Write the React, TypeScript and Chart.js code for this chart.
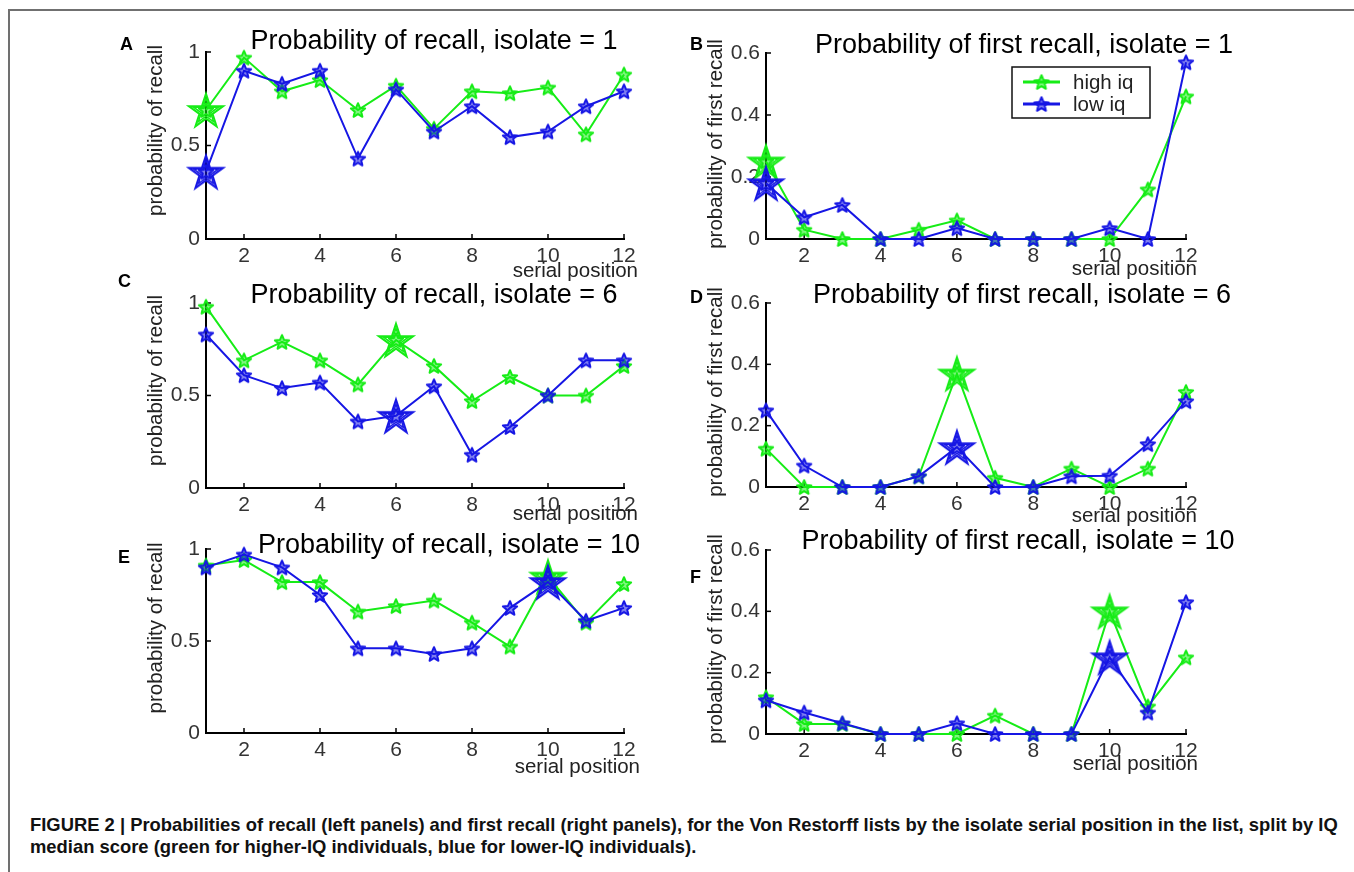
import React, { useEffect, useRef } from 'react';
import { Chart, registerables } from 'chart.js';

Chart.register(...registerables);

// ---------------- data ----------------
const serialPositions = [1, 2, 3, 4, 5, 6, 7, 8, 9, 10, 11, 12];
const xTickValues = [2, 4, 6, 8, 10, 12];
const yTicksRecall = [0, 0.5, 1];
const yTicksFirst = [0, 0.2, 0.4, 0.6];
const seriesLabels = ['high iq', 'low iq'];

const recallIso1High = [0.69, 0.97, 0.79, 0.85, 0.69, 0.82, 0.59, 0.79, 0.78, 0.81, 0.56, 0.88];
const recallIso1Low = [0.36, 0.9, 0.83, 0.9, 0.43, 0.8, 0.575, 0.71, 0.545, 0.575, 0.71, 0.79];
const firstIso1High = [0.25, 0.03, 0, 0, 0.03, 0.06, 0, 0, 0, 0, 0.16, 0.46];
const firstIso1Low = [0.18, 0.07, 0.11, 0, 0, 0.035, 0, 0, 0, 0.035, 0, 0.57];
const recallIso6High = [0.98, 0.69, 0.79, 0.69, 0.56, 0.8, 0.66, 0.47, 0.6, 0.5, 0.5, 0.66];
const recallIso6Low = [0.83, 0.61, 0.54, 0.57, 0.36, 0.39, 0.55, 0.18, 0.33, 0.5, 0.69, 0.69];
const firstIso6High = [0.125, 0, 0, 0, 0.035, 0.37, 0.03, 0, 0.06, 0, 0.06, 0.31];
const firstIso6Low = [0.25, 0.07, 0, 0, 0.035, 0.13, 0, 0, 0.035, 0.037, 0.14, 0.28];
const recallIso10High = [0.91, 0.94, 0.82, 0.82, 0.66, 0.69, 0.72, 0.6, 0.47, 0.85, 0.6, 0.81];
const recallIso10Low = [0.9, 0.97, 0.9, 0.75, 0.46, 0.46, 0.43, 0.46, 0.68, 0.82, 0.61, 0.68];
const firstIso10High = [0.12, 0.033, 0.033, 0, 0, 0, 0.06, 0, 0, 0.4, 0.09, 0.25];
const firstIso10Low = [0.11, 0.07, 0.035, 0, 0, 0.035, 0, 0, 0, 0.25, 0.07, 0.43];

const captionLine1 =
  'FIGURE 2 | Probabilities of recall (left panels) and first recall (right panels), for the Von Restorff lists by the isolate serial position in the list, split by IQ';
const captionLine2 = 'median score (green for higher-IQ individuals, blue for lower-IQ individuals).';

// ---------------- styles / layout ----------------
const GREEN = 'rgb(22,236,22)';
const BLUE = 'rgb(22,22,228)';
const FONT = '"Liberation Sans", Arial, Helvetica, sans-serif';

type PanelCfg = {
  letter: string;
  title: string;
  ylabel: string;
  high: number[];
  low: number[];
  isolate: number;
  yMax: number;
  yTicks: number[];
  area: { l: number; t: number; r: number; b: number };
  titleDx: number;
  titleDy: number;
  ylabelDy: number;
  xlabelDx: number;
  xlabelDy: number;
  legend: boolean;
  letterPos: { x: number; y: number };
};

const panels: PanelCfg[] = [
  {
    letter: 'A', title: 'Probability of recall, isolate = 1', ylabel: 'probability of recall',
    high: recallIso1High, low: recallIso1Low, isolate: 1, yMax: 1, yTicks: yTicksRecall,
    area: { l: 206, t: 52, r: 624, b: 239 }, titleDx: 19, titleDy: -3, ylabelDy: -15,
    xlabelDx: 14, xlabelDy: 38, legend: false, letterPos: { x: 120, y: 35 },
  },
  {
    letter: 'B', title: 'Probability of first recall, isolate = 1', ylabel: 'probability of first recall',
    high: firstIso1High, low: firstIso1Low, isolate: 1, yMax: 0.6, yTicks: yTicksFirst,
    area: { l: 766, t: 53, r: 1186, b: 239 }, titleDx: 48, titleDy: 0, ylabelDy: -2,
    xlabelDx: 11, xlabelDy: 36, legend: true, letterPos: { x: 690, y: 35 },
  },
  {
    letter: 'C', title: 'Probability of recall, isolate = 6', ylabel: 'probability of recall',
    high: recallIso6High, low: recallIso6Low, isolate: 6, yMax: 1, yTicks: yTicksRecall,
    area: { l: 206, t: 303, r: 624, b: 488 }, titleDx: 19, titleDy: 0, ylabelDy: -15,
    xlabelDx: 14, xlabelDy: 32, legend: false, letterPos: { x: 118, y: 272 },
  },
  {
    letter: 'D', title: 'Probability of first recall, isolate = 6', ylabel: 'probability of first recall',
    high: firstIso6High, low: firstIso6Low, isolate: 6, yMax: 0.6, yTicks: yTicksFirst,
    area: { l: 766, t: 303, r: 1186, b: 487 }, titleDx: 46, titleDy: 0, ylabelDy: -3,
    xlabelDx: 11, xlabelDy: 35, legend: false, letterPos: { x: 690, y: 288 },
  },
  {
    letter: 'E', title: 'Probability of recall, isolate = 10', ylabel: 'probability of recall',
    high: recallIso10High, low: recallIso10Low, isolate: 10, yMax: 1, yTicks: yTicksRecall,
    area: { l: 206, t: 549, r: 624, b: 733 }, titleDx: 34, titleDy: 4, ylabelDy: -13,
    xlabelDx: 16, xlabelDy: 40, legend: false, letterPos: { x: 118, y: 548 },
  },
  {
    letter: 'F', title: 'Probability of first recall, isolate = 10', ylabel: 'probability of first recall',
    high: firstIso10High, low: firstIso10Low, isolate: 10, yMax: 0.6, yTicks: yTicksFirst,
    area: { l: 766, t: 550, r: 1186, b: 734 }, titleDx: 42, titleDy: -1, ylabelDy: -3,
    xlabelDx: 12, xlabelDy: 36, legend: false, letterPos: { x: 690, y: 568 },
  },
];

const PAD_L = 50, Y_W = 60, PAD_T = 60, PAD_R = 100, PAD_B = 20, X_H = 40;

// ---------------- markers ----------------
function starPath(g: CanvasRenderingContext2D, cx: number, cy: number, R: number, ratio: number) {
  g.beginPath();
  for (let i = 0; i < 10; i++) {
    const ang = -Math.PI / 2 + (i * Math.PI) / 5;
    const rad = i % 2 === 0 ? R : R * ratio;
    const x = cx + rad * Math.cos(ang);
    const y = cy + rad * Math.sin(ang);
    if (i === 0) g.moveTo(x, y);
    else g.lineTo(x, y);
  }
  g.closePath();
}

const markerCache: Record<string, HTMLCanvasElement> = {};
function marker(color: string, big: boolean): HTMLCanvasElement {
  const key = color + (big ? 'B' : 's');
  if (markerCache[key]) return markerCache[key];
  const S = big ? 46 : 22;
  const c = document.createElement('canvas');
  c.width = S;
  c.height = S;
  const g = c.getContext('2d') as CanvasRenderingContext2D;
  g.strokeStyle = color;
  g.fillStyle = color;
  g.lineJoin = 'round';
  const rs = 7.5;
  g.lineWidth = 2;
  starPath(g, S / 2, S / 2 + 0.0955 * rs, rs, 0.45);
  g.globalAlpha = 0.55;
  g.fill();
  g.globalAlpha = 1;
  g.stroke();
  if (big) {
    g.lineJoin = 'miter';
    g.lineWidth = 2;
    starPath(g, S / 2, S / 2 + 0.0955 * 18, 18, 0.382);
    g.stroke();
    g.lineWidth = 1.5;
    starPath(g, S / 2, S / 2 + 0.0955 * 13, 13, 0.382);
    g.stroke();
  }
  markerCache[key] = c;
  return c;
}

// ---------------- plugin: axes decorations, titles, legend ----------------
const decorPlugin = {
  id: 'decor',
  beforeDatasetsDraw(chart: any, _args: any, opts: any) {
    const { ctx, chartArea: a, scales } = chart;
    ctx.save();
    ctx.strokeStyle = '#000';
    ctx.lineWidth = 1.5;
    scales.x.ticks.forEach((t: any) => {
      const px = scales.x.getPixelForValue(t.value);
      ctx.beginPath();
      ctx.moveTo(px, a.bottom);
      ctx.lineTo(px, a.bottom - 5);
      ctx.stroke();
    });
    scales.y.ticks.forEach((t: any) => {
      const py = scales.y.getPixelForValue(t.value);
      ctx.beginPath();
      ctx.moveTo(a.left, py);
      ctx.lineTo(a.left + 5, py);
      ctx.stroke();
    });
    // title
    ctx.fillStyle = '#000';
    ctx.font = `27px ${FONT}`;
    ctx.textAlign = 'center';
    ctx.textBaseline = 'alphabetic';
    ctx.fillText(opts.title, (a.left + a.right) / 2 + opts.titleDx, a.top + opts.titleDy);
    // x label
    ctx.fillStyle = '#222';
    ctx.font = `20.5px ${FONT}`;
    ctx.textAlign = 'right';
    ctx.fillText(opts.xlabel, a.right + opts.xlabelDx, a.bottom + opts.xlabelDy);
    // y label
    ctx.save();
    ctx.translate(a.left - 50, (a.top + a.bottom) / 2 + opts.ylabelDy);
    ctx.rotate(-Math.PI / 2);
    ctx.textAlign = 'center';
    ctx.textBaseline = 'middle';
    ctx.fillText(opts.ylabel, 0, 0);
    ctx.restore();
    ctx.restore();
  },
  afterDatasetsDraw(chart: any, _args: any, opts: any) {
    if (!opts.legend) return;
    const { ctx, chartArea: a } = chart;
    const bx = a.left + 246, by = a.top + 14, bw = 138, bh = 51;
    ctx.save();
    ctx.fillStyle = '#fff';
    ctx.fillRect(bx, by, bw, bh);
    ctx.strokeStyle = '#111';
    ctx.lineWidth = 1.5;
    ctx.strokeRect(bx, by, bw, bh);
    chart.data.datasets.forEach((ds: any, i: number) => {
      const y = by + 15 + i * 22;
      ctx.strokeStyle = ds.borderColor;
      ctx.lineWidth = 3;
      ctx.beginPath();
      ctx.moveTo(bx + 11, y);
      ctx.lineTo(bx + 48, y);
      ctx.stroke();
      const m = marker(ds.borderColor, false);
      ctx.drawImage(m, bx + 29.5 - m.width / 2, y - m.height / 2);
      ctx.fillStyle = '#222';
      ctx.font = `20.5px ${FONT}`;
      ctx.textAlign = 'left';
      ctx.textBaseline = 'middle';
      ctx.fillText(ds.label, bx + 61, y + 1);
    });
    ctx.restore();
  },
};

// ---------------- components ----------------
function Panel({ p }: { p: PanelCfg }) {
  const ref = useRef<HTMLCanvasElement | null>(null);
  const width = p.area.r - p.area.l + PAD_L + Y_W + PAD_R;
  const height = p.area.b - p.area.t + PAD_T + PAD_B + X_H;
  const left = p.area.l - PAD_L - Y_W;
  const top = p.area.t - PAD_T;

  useEffect(() => {
    if (!ref.current) return;
    const isoIdx = serialPositions.indexOf(p.isolate);
    const mkDs = (label: string, vals: number[], color: string, order: number) => ({
      label,
      data: serialPositions.map((x, i) => ({ x, y: vals[i] })),
      borderColor: color,
      backgroundColor: color,
      borderWidth: 2,
      tension: 0,
      fill: false,
      clip: false,
      order,
      pointRadius: 8,
      pointStyle: (ctx: any) => marker(color, ctx.dataIndex === isoIdx),
    });
    const tickFont = { family: FONT, size: 21 };
    const chart = new Chart(ref.current, {
      type: 'line',
      data: {
        datasets: [mkDs(seriesLabels[0], p.high, GREEN, 1), mkDs(seriesLabels[1], p.low, BLUE, 0)],
      },
      options: {
        animation: false,
        responsive: false,
        maintainAspectRatio: false,
        devicePixelRatio: 1,
        events: [],
        layout: { padding: { left: PAD_L, top: PAD_T, right: PAD_R, bottom: PAD_B }, autoPadding: false },
        plugins: {
          legend: { display: false },
          title: { display: false },
          tooltip: { enabled: false },
          decor: {
            title: p.title,
            ylabel: p.ylabel,
            xlabel: 'serial position',
            titleDx: p.titleDx,
            titleDy: p.titleDy,
            ylabelDy: p.ylabelDy,
            xlabelDx: p.xlabelDx,
            xlabelDy: p.xlabelDy,
            legend: p.legend,
          },
        } as any,
        scales: {
          x: {
            type: 'linear',
            min: serialPositions[0],
            max: serialPositions[serialPositions.length - 1],
            grid: { display: false, drawTicks: false },
            border: { display: true, color: '#000', width: 2 },
            ticks: {
              font: tickFont,
              color: '#333',
              padding: 5,
              maxRotation: 0,
              autoSkip: false,
              callback: (v: any) => String(v),
            },
            afterBuildTicks: (s: any) => {
              s.ticks = xTickValues.map((v) => ({ value: v }));
            },
            afterFit: (s: any) => {
              s.height = X_H;
            },
          },
          y: {
            type: 'linear',
            min: 0,
            max: p.yMax,
            grid: { display: false, drawTicks: false },
            border: { display: true, color: '#000', width: 2 },
            ticks: {
              font: tickFont,
              color: '#333',
              padding: 6,
              autoSkip: false,
              callback: (v: any) => String(Math.round(Number(v) * 10) / 10),
            },
            afterBuildTicks: (s: any) => {
              s.ticks = p.yTicks.map((v) => ({ value: v }));
            },
            afterFit: (s: any) => {
              s.width = Y_W;
            },
          },
        } as any,
      },
      plugins: [decorPlugin as any],
    });
    return () => chart.destroy();
  }, [p]);

  return (
    <canvas
      ref={ref}
      width={width}
      height={height}
      style={{ position: 'absolute', left, top, width, height }}
    />
  );
}

export default function App() {
  return (
    <div
      style={{
        position: 'fixed',
        left: 0,
        top: 0,
        width: 1354,
        height: 872,
        background: '#fff',
        overflow: 'hidden',
        fontFamily: FONT,
      }}
    >
      <div
        style={{
          position: 'absolute',
          left: 8,
          top: 9,
          width: 1400,
          height: 900,
          borderLeft: '2px solid #707070',
          borderTop: '2px solid #707070',
        }}
      />
      {panels.map((p) => (
        <Panel key={p.letter} p={p} />
      ))}
      {panels.map((p) => (
        <div
          key={'L' + p.letter}
          style={{
            position: 'absolute',
            left: p.letterPos.x,
            top: p.letterPos.y,
            fontWeight: 'bold',
            fontSize: 18,
            lineHeight: '18px',
            color: '#000',
          }}
        >
          {p.letter}
        </div>
      ))}
      <div
        style={{
          position: 'absolute',
          left: 30,
          top: 814,
          fontWeight: 'bold',
          fontSize: 18.4,
          lineHeight: '22px',
          color: '#111',
          whiteSpace: 'nowrap',
        }}
      >
        <div>{captionLine1}</div>
        <div>{captionLine2}</div>
      </div>
    </div>
  );
}
